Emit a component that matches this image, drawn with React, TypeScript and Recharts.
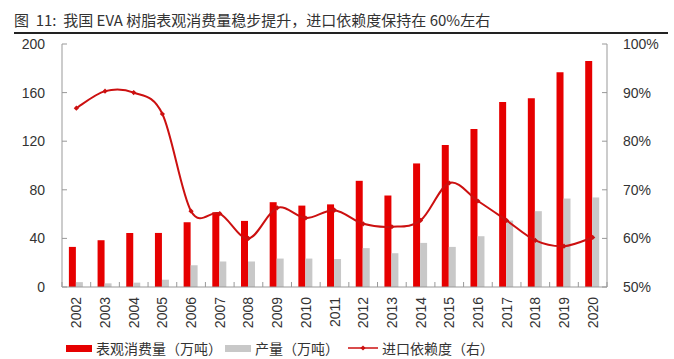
import { ComposedChart, Bar, Line, XAxis, YAxis } from 'recharts';

// ─── Data ─────────────────────────────────────────────────────────────────────

const years = [
  '2002', '2003', '2004', '2005', '2006', '2007', '2008', '2009', '2010', '2011',
  '2012', '2013', '2014', '2015', '2016', '2017', '2018', '2019', '2020',
];

// 表观消费量（万吨）
const consumption = [33, 38.5, 44.5, 44.5, 53.3, 61.5, 54.4, 69.8, 67, 68, 87.4, 75.3, 101.7, 116.8, 130, 152.2, 155.3, 176.7, 186];

// 产量（万吨）
const production = [4, 3, 3.6, 6, 17.9, 21, 21, 23.4, 23.4, 23, 32, 27.8, 36.3, 33, 41.8, 54.7, 62.4, 72.8, 73.7];

// 进口依赖度（右），%
const importDependence = [86.8, 90.3, 90.0, 85.6, 65.6, 65.1, 60.0, 66.3, 64.2, 65.8, 63.0, 62.4, 63.7, 71.4, 67.7, 63.7, 59.6, 58.4, 60.2];

const leftTicks = [0, 40, 80, 120, 160, 200];
const rightTicks = [50, 60, 70, 80, 90, 100];

// ─── Styling ──────────────────────────────────────────────────────────────────

const RED = '#E60000';
const GRAY = '#C8C8C8';
const LINE_RED = '#CC1010';
const AXIS = '#999999';
const TEXT = '#333333';
const NUM_FONT = '"Liberation Sans", Arial, sans-serif';
const CJK_FONT = '"Noto Sans CJK SC", "Liberation Sans", sans-serif';

const W = 674;
const H = 359;
const LEFT_W = 62;
const RIGHT_W = 67;
const BAND = (W - LEFT_W - RIGHT_W) / years.length;

const chartData = years.map((year, i) => ({
  year,
  consumption: consumption[i],
  production: production[i],
  dep: importDependence[i],
}));

// Excel-style smoothed line (Catmull-Rom through every point)
function excelSmooth(context: any) {
  let pts: [number, number][] = [];
  return {
    areaStart() {},
    areaEnd() {},
    lineStart() {
      pts = [];
    },
    point(x: number, y: number) {
      pts.push([+x, +y]);
    },
    lineEnd() {
      if (!pts.length) return;
      context.moveTo(pts[0][0], pts[0][1]);
      for (let i = 0; i < pts.length - 1; i++) {
        const p0 = pts[i - 1] || pts[i];
        const p1 = pts[i];
        const p2 = pts[i + 1];
        const p3 = pts[i + 2] || pts[i + 1];
        context.bezierCurveTo(
          p1[0] + (p2[0] - p0[0]) / 6,
          p1[1] + (p2[1] - p0[1]) / 6,
          p2[0] - (p3[0] - p1[0]) / 6,
          p2[1] - (p3[1] - p1[1]) / 6,
          p2[0],
          p2[1],
        );
      }
    },
  };
}

// ─── Ticks / markers ──────────────────────────────────────────────────────────

function YearTick({ x, y, payload, index }: any) {
  const isLast = index === years.length - 1;
  return (
    <g>
      <line x1={x - BAND / 2} x2={x - BAND / 2} y1={y} y2={y - 5} stroke={AXIS} />
      {isLast && <line x1={x + BAND / 2} x2={x + BAND / 2} y1={y} y2={y - 5} stroke={AXIS} />}
      <g transform={`translate(${x},${y + 10})`}>
        <text
          transform="rotate(-90)"
          textAnchor="end"
          dy="0.36em"
          fill={TEXT}
          fontSize={14}
          fontFamily={NUM_FONT}
        >
          {payload.value}
        </text>
      </g>
    </g>
  );
}

function Diamond({ cx, cy }: any) {
  if (cx == null || cy == null) return null;
  const r = 2.6;
  return (
    <path
      d={`M${cx},${cy - r}L${cx + r},${cy}L${cx},${cy + r}L${cx - r},${cy}Z`}
      fill={LINE_RED}
    />
  );
}

// ─── Legend ───────────────────────────────────────────────────────────────────

function LegendRow() {
  const item: React.CSSProperties = {
    position: 'absolute',
    top: 338,
    display: 'flex',
    alignItems: 'center',
    fontFamily: CJK_FONT,
    fontSize: 14,
    color: TEXT,
    whiteSpace: 'nowrap',
  };
  return (
    <>
      <div style={{ ...item, left: 66 }}>
        <span style={{ width: 26, height: 7, background: RED, marginRight: 4 }} />
        表观消费量（万吨）
      </div>
      <div style={{ ...item, left: 225 }}>
        <span style={{ width: 26, height: 7, background: GRAY, marginRight: 4 }} />
        产量（万吨）
      </div>
      <div style={{ ...item, left: 348 }}>
        <svg width={30} height={8} style={{ marginRight: 4 }}>
          <line x1={0} x2={30} y1={4} y2={4} stroke={LINE_RED} strokeWidth={1.5} />
          <path d="M15,1.4L17.6,4L15,6.6L12.4,4Z" fill={LINE_RED} />
        </svg>
        进口依赖度（右）
      </div>
    </>
  );
}

// ─── Chart ────────────────────────────────────────────────────────────────────

export default function App() {
  return (
    <div style={{ position: 'relative', width: W, height: H, background: '#fff' }}>
      <style>{'body{margin:0}'}</style>

      <div
        style={{
          position: 'absolute',
          left: 14,
          top: 9,
          fontFamily: CJK_FONT,
          fontSize: 15,
          color: TEXT,
          whiteSpace: 'pre',
        }}
      >
        {'图  11:  我国 EVA 树脂表观消费量稳步提升，进口依赖度保持在 60%左右'}
      </div>
      <div
        style={{
          position: 'absolute',
          left: 14,
          top: 32,
          width: 654,
          height: 2,
          background: '#222',
        }}
      />

      <div style={{ position: 'absolute', left: 0, top: 0 }}>
        <ComposedChart
          width={W}
          height={H}
          data={chartData}
          margin={{ top: 44, right: 0, bottom: 27, left: 0 }}
          barCategoryGap="24%"
          barGap={0}
        >
          <XAxis
            dataKey="year"
            height={45}
            interval={0}
            stroke={AXIS}
            tickLine={false}
            tickSize={0}
            tickMargin={0}
            tick={<YearTick />}
          />
          <YAxis
            yAxisId="left"
            domain={[0, 200]}
            ticks={leftTicks}
            width={LEFT_W}
            stroke={AXIS}
            tickSize={-5}
            tickMargin={22}
            tick={{ fill: TEXT, fontSize: 14, fontFamily: NUM_FONT }}
            interval={0}
          />
          <YAxis
            yAxisId="right"
            orientation="right"
            domain={[50, 100]}
            ticks={rightTicks}
            width={RIGHT_W}
            stroke={AXIS}
            tickSize={-5}
            tickMargin={21}
            tickFormatter={(v: number) => `${v}%`}
            tick={{ fill: TEXT, fontSize: 14, fontFamily: NUM_FONT }}
            interval={0}
          />
          <Bar yAxisId="left" dataKey="consumption" fill={RED} isAnimationActive={false} />
          <Bar yAxisId="left" dataKey="production" fill={GRAY} isAnimationActive={false} />
          <Line
            yAxisId="right"
            dataKey="dep"
            type={excelSmooth as any}
            stroke={LINE_RED}
            strokeWidth={2}
            dot={<Diamond />}
            activeDot={false}
            isAnimationActive={false}
          />
        </ComposedChart>
      </div>

      <LegendRow />
    </div>
  );
}
